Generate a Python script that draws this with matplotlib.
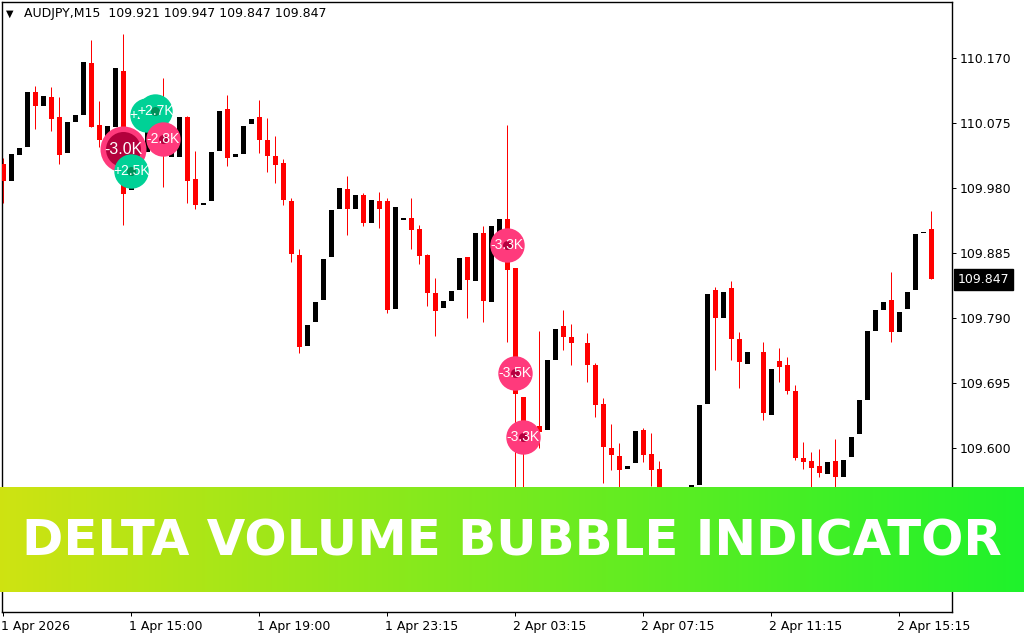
import numpy as np
import matplotlib
matplotlib.use("Agg")
import matplotlib.pyplot as plt
import matplotlib.transforms as mtransforms

nan = np.nan
# ---- data (AUDJPY M15) ----
opens = [110.016, 109.990, 110.029, 110.041, 110.121, 110.101, 110.113, 110.084, 110.032, 110.077,
         110.087, 110.163, 110.072, 110.041, 110.070, 110.151, 109.978, 110.007, 110.033, 110.070,
         110.072, 110.026, 110.026, 110.084, 109.994, 109.956, 109.962, 110.035, 110.096, 110.026,
         110.030, 110.074, 110.084, 110.051, 110.027, 110.017, 109.961, 109.883, 109.750, 109.785,
         109.817, 109.880, 109.950, 109.979, 109.950, 109.970, 109.929, 109.961, 109.961, 109.804,
         109.934, 109.937, 109.921, 109.883, 109.827, 109.805, 109.815, 109.831, 109.880, 109.845,
         109.915, 109.814, 109.916, 109.935, 109.863, 109.675, 109.597, 109.633, 109.627, 109.729,
         109.778, 109.763, nan, 109.754, 109.721, 109.665, 109.601, 109.589, 109.570, 109.578,
         109.627, 109.592, 109.570, 109.495, 109.440, 109.470, 109.481, 109.546, 109.665, 109.831,
         109.790, 109.834, 109.760, 109.723, nan, 109.741, 109.649, 109.728, 109.722, 109.684,
         109.586, 109.581, 109.574, 109.562, 109.581, 109.558, 109.587, 109.621, 109.671, 109.771,
         109.802, 109.817, 109.770, 109.804, 109.831, 109.915, 109.921]
highs = [110.024, 110.030, 110.039, 110.121, 110.130, 110.115, 110.128, 110.113, 110.077, 110.087,
         110.164, 110.197, 110.108, 110.071, 110.156, 110.206, 109.982, 110.036, 110.070, 110.094,
         110.141, 110.036, 110.084, 110.086, 110.034, 109.959, 110.033, 110.093, 110.116, 110.030,
         110.071, 110.082, 110.109, 110.083, 110.056, 110.023, 109.966, 109.891, 109.780, 109.814,
         109.877, 109.948, 109.980, 109.998, 109.970, 109.973, 109.963, 109.975, 109.966, 109.953,
         109.937, 109.966, 109.926, 109.884, 109.849, 109.815, 109.830, 109.878, 109.880, 109.915,
         109.925, 109.925, 109.935, 110.072, 109.863, 109.675, 109.624, 109.771, 109.729, 109.774,
         109.802, 109.782, nan, 109.769, 109.724, 109.673, 109.635, 109.608, 109.574, 109.625,
         109.630, 109.622, 109.581, 109.500, 109.480, 109.520, 109.546, 109.663, 109.826, 109.836,
         109.828, 109.845, 109.770, 109.741, nan, 109.755, 109.716, 109.747, 109.733, 109.692,
         109.609, 109.595, 109.599, 109.580, 109.614, 109.583, 109.616, 109.671, 109.771, 109.802,
         109.814, 109.858, 109.799, 109.828, 109.913, 109.916, 109.947]
lows = [109.958, 109.990, 110.029, 110.041, 110.067, 110.101, 110.064, 110.016, 110.032, 110.077,
        110.087, 110.069, 110.041, 110.041, 110.070, 109.926, 109.978, 110.007, 110.033, 110.070,
        109.982, 110.026, 110.026, 109.958, 109.950, 109.956, 109.962, 110.035, 110.013, 110.026,
        110.030, 110.074, 110.032, 110.004, 109.988, 109.956, 109.872, 109.739, 109.750, 109.785,
        109.817, 109.880, 109.950, 109.912, 109.950, 109.925, 109.929, 109.922, 109.798, 109.804,
        109.934, 109.891, 109.869, 109.808, 109.764, 109.805, 109.815, 109.831, 109.790, 109.845,
        109.785, 109.814, 109.916, 109.755, 109.495, 109.510, 109.597, 109.600, 109.627, 109.729,
        109.743, 109.722, nan, 109.697, 109.646, 109.549, 109.568, 109.532, 109.570, 109.578,
        109.580, 109.545, 109.466, 109.430, 109.440, 109.470, 109.481, 109.546, 109.665, 109.714,
        109.790, 109.729, 109.688, 109.723, nan, 109.641, 109.649, 109.697, 109.679, 109.583,
        109.570, 109.524, 109.558, 109.562, 109.532, 109.558, 109.587, 109.621, 109.671, 109.771,
        109.802, 109.755, 109.770, 109.804, 109.831, 109.915, 109.847]
closes = [109.990, 110.030, 110.039, 110.121, 110.101, 110.115, 110.082, 110.029, 110.077, 110.087,
          110.164, 110.070, 110.050, 110.071, 110.156, 109.971, 109.982, 110.036, 110.070, 110.094,
          110.036, 110.036, 110.084, 109.990, 109.955, 109.959, 110.033, 110.093, 110.025, 110.030,
          110.071, 110.082, 110.050, 110.027, 110.014, 109.963, 109.884, 109.748, 109.780, 109.814,
          109.877, 109.948, 109.980, 109.950, 109.970, 109.929, 109.963, 109.950, 109.802, 109.953,
          109.937, 109.919, 109.881, 109.827, 109.801, 109.815, 109.830, 109.878, 109.846, 109.915,
          109.815, 109.925, 109.935, 109.861, 109.680, 109.612, 109.624, 109.624, 109.729, 109.774,
          109.762, 109.754, nan, 109.721, 109.663, 109.602, 109.590, 109.568, 109.574, 109.625,
          109.590, 109.568, 109.495, 109.450, 109.480, 109.520, 109.546, 109.663, 109.826, 109.790,
          109.828, 109.760, 109.726, 109.741, nan, 109.652, 109.716, 109.719, 109.684, 109.586,
          109.580, 109.571, 109.564, 109.580, 109.558, 109.583, 109.616, 109.671, 109.771, 109.802,
          109.814, 109.770, 109.799, 109.828, 109.913, 109.916, 109.847]

# delta volume bubbles (bar index, price, label) in drawing order
bubble_idx = [18, 19, 15, 20, 16, 63, 64, 65]
bubble_price = [110.087, 110.093, 110.038, 110.052, 110.005, 109.897, 109.710, 109.616]
bubble_label = ["+2.7K", "+2.7K", "-3.0K", "-2.8K", "+2.5K", "-3.3K", "-3.5K", "-3.3K"]

price_ticks = [109.600, 109.695, 109.790, 109.885, 109.980, 110.075, 110.170]
time_tick_idx = [0, 16, 32, 48, 64, 80, 96, 112]
time_tick_labels = ["1 Apr 2026", "1 Apr 15:00", "1 Apr 19:00", "1 Apr 23:15",
                    "2 Apr 03:15", "2 Apr 07:15", "2 Apr 11:15", "2 Apr 15:15"]
header = "AUDJPY,M15  109.921 109.947 109.847 109.847"
last_price = 109.847
banner_text = "DELTA VOLUME BUBBLE INDICATOR"

# ---- figure ----
W, H = 1024, 640
fig = plt.figure(figsize=(W / 100, H / 100), dpi=100, facecolor="white")
ax = fig.add_axes([2 / W, 1 - 612 / H, 950 / W, 610 / H])
ax.set_facecolor("white")
for s in ax.spines.values():
    s.set_color("black")
    s.set_linewidth(1.0)

o = np.array(opens); h = np.array(highs); l = np.array(lows); c = np.array(closes)
x = np.arange(len(o))
valid = ~np.isnan(o)
bear = valid & (c < o)
bull = valid & ~bear

px = 72 / 100  # one pixel in points
ax.vlines(x[bear], l[bear], h[bear], color="#ff0000", linewidth=px, zorder=2)
body_w = 0.625
bottoms = np.minimum(o, c)
heights = np.maximum(np.abs(c - o), 0.0012)
ax.bar(x[bear], heights[bear], bottom=bottoms[bear], width=body_w, color="#ff0000",
       linewidth=0, zorder=3)
ax.bar(x[bull], heights[bull], bottom=bottoms[bull], width=body_w, color="#000000",
       linewidth=0, zorder=3)

# bubbles
def rpx_to_s(r):
    return (2 * r * px) ** 2

z = 5
for i, p, lab in zip(bubble_idx, bubble_price, bubble_label):
    neg = lab.startswith("-")
    main = "#ff3a7c" if neg else "#00d196"
    dark = "#b5003f" if neg else "#00915a"
    if lab == "-3.0K":
        ax.scatter([i], [p], s=rpx_to_s(23), color=main, linewidths=0, zorder=z)
        ax.scatter([i], [p], s=rpx_to_s(17.5), color="#b3003c", linewidths=0, zorder=z + 0.1)
        fs = 11.5
        ty = p - 0.002
    else:
        ax.scatter([i], [p], s=rpx_to_s(17.2), color=main, linewidths=0, zorder=z)
        ax.scatter([i - 0.1], [p], s=rpx_to_s(4.5), color=dark, linewidths=0, zorder=z + 0.1)
        fs = 10
        ty = p
    ax.text(i, ty, lab, color="white", fontsize=fs, family="Liberation Sans",
            ha="center", va="center", zorder=z + 0.2)
    z += 1

ax.set_xlim(-0.1625, 118.5875)
ax.set_ylim(109.3607, 110.2523)

ax.yaxis.tick_right()
ax.set_yticks(price_ticks)
ax.set_yticklabels([f"{v:.3f}" for v in price_ticks])
ax.tick_params(axis="y", direction="out", length=3.5 * px, width=px, pad=4 * px,
               labelsize=9, colors="black")
ax.set_xticks(time_tick_idx)
ax.set_xticklabels(time_tick_labels, ha="left")
ax.tick_params(axis="x", direction="out", length=4 * px, width=px, pad=4 * px,
               labelsize=9, colors="black")
offset = mtransforms.ScaledTranslation(-2 / 100, 0, fig.dpi_scale_trans)
for t in ax.get_xticklabels():
    t.set_transform(t.get_transform() + offset)

# current price tag
trans = mtransforms.blended_transform_factory(ax.transAxes, ax.transData)
ax.text(1.0 + 5.5 / 950, last_price, f"{last_price:.3f}", transform=trans, color="white",
        fontsize=9, ha="left", va="center", zorder=20, clip_on=False,
        bbox=dict(boxstyle="square,pad=0.32", fc="black", ec="black"))

# header
fig.text(6 / W, 1 - 14 / H, "\u25bc", fontsize=7, va="center", ha="left", color="black")
fig.text(24 / W, 1 - 14 / H, header, fontsize=9, va="center", ha="left", color="black")

# banner overlay
bax = fig.add_axes([0, 1 - 592 / H, 1, 105 / H])
grad = np.linspace(0, 1, 512)
left_c = np.array([0.81, 0.89, 0.07])
right_c = np.array([0.12, 0.95, 0.17])
img = (left_c[None, :] * (1 - grad[:, None]) + right_c[None, :] * grad[:, None])[None, :, :]
bax.imshow(img, aspect="auto", extent=[0, 1, 0, 1], interpolation="bilinear")
bax.set_xlim(0, 1); bax.set_ylim(0, 1)
bax.axis("off")
bax.text(0.5, (592 - 556) / 105, banner_text, color="white", fontsize=35.8,
         family="DejaVu Sans", weight="bold", ha="center", va="baseline")

fig.savefig("out.png", dpi=100, facecolor="white")
